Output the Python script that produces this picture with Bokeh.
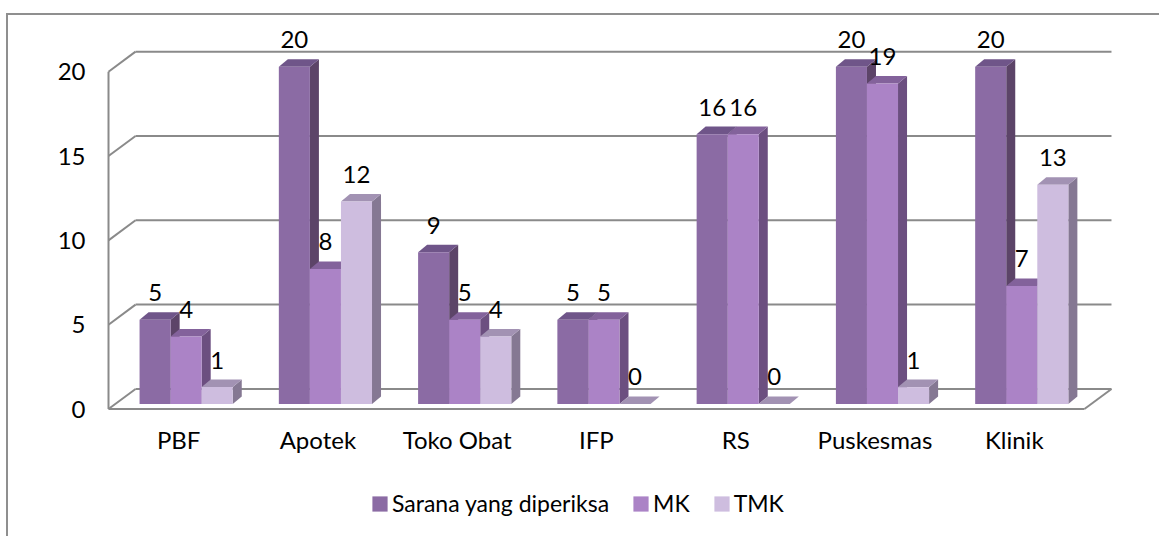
from bokeh.plotting import figure
from bokeh.models import (Range1d, LinearAxis, FixedTicker, Legend, LegendItem, Spacer)
from bokeh.layouts import column, row
from bokeh.embed import file_html
from bokeh.resources import INLINE
from bokeh.core.properties import value

# ---------------- data ----------------
categories = ["PBF", "Apotek", "Toko Obat", "IFP", "RS", "Puskesmas", "Klinik"]
series_names = ["Sarana yang diperiksa", "MK", "TMK"]
sarana = [5, 20, 9, 5, 16, 20, 20]
mk = [4, 8, 5, 5, 16, 19, 7]
tmk = [1, 12, 4, 0, 0, 1, 13]
y_ticks = [0, 5, 10, 15, 20]

# ---------------- styles ----------------
front_colors = ["#8B6BA4", "#AB83C6", "#CEBDDF"]
top_colors = ["#6F5589", "#83629B", "#A292B3"]
side_colors = ["#5C4468", "#6C4F80", "#857893"]
wall_color = "#8A8A8A"
FONT = "Lato"
FS = "24px"
LEG_FS = "23px"

# pixel geometry (page coordinates)
PX_X = 139.0      # px per category
PX_Y = 16.8       # px per value unit
ORIGIN_X = 185.5  # page x of first category centre (front plane of bars)
ORIGIN_Y = 407.0  # page y of value 0 on the front axis
FRAME_L, FRAME_W = 104, 1040
FRAME_T, FRAME_H = 15, 521
XLABEL_Y = 417.0  # page y where category labels hang from
LEGEND_LEFT, LEGEND_CY = 370, 499

BAR_W = 31.0 / PX_X
BAR_BASE = 5.0 / PX_Y          # bars sit slightly behind the front edge
BAR_DX = 9.0 / PX_X            # bar depth
BAR_DY = 7.5 / PX_Y
WALL_DX = 27.0 / PX_X          # depth of the wall/floor
WALL_DY = 20.0 / PX_Y
LABEL_GAP = 27.0 / PX_Y
FLOOR_L = (108 - ORIGIN_X) / PX_X
FLOOR_R_PAD = 0.45
LABEL_SHIFT = 7.5              # category labels sit on the front plane

x_range = Range1d((FRAME_L - ORIGIN_X) / PX_X, (FRAME_L + FRAME_W - ORIGIN_X) / PX_X)
y_range = Range1d((ORIGIN_Y - (FRAME_T + FRAME_H)) / PX_Y, (ORIGIN_Y - FRAME_T) / PX_Y)

p = figure(frame_width=FRAME_W, frame_height=FRAME_H,
           x_range=x_range, y_range=y_range,
           x_axis_type=None, y_axis_type=None,
           toolbar_location=None, output_backend="svg", title=None,
           min_border_left=96, min_border_right=15, min_border_top=0, min_border_bottom=0,
           background_fill_color="white", border_fill_color="white",
           outline_line_color=None)
p.styles = {"border-left": "2px solid #8F8F8F", "border-top": "2px solid #8F8F8F"}

n = len(categories)
ymax = max(y_ticks)

# ---------------- walls / floor ----------------
x_fr = (n - 1) + FLOOR_R_PAD
x_bl = FLOOR_L + WALL_DX
x_br = x_fr + WALL_DX
sx0, sy0, sx1, sy1 = [], [], [], []
for t in y_ticks:
    sx0.append(x_bl); sy0.append(t + WALL_DY); sx1.append(x_br); sy1.append(t + WALL_DY)
    sx0.append(FLOOR_L); sy0.append(t); sx1.append(x_bl); sy1.append(t + WALL_DY)
sx0.append(FLOOR_L); sy0.append(0); sx1.append(FLOOR_L); sy1.append(ymax)
sx0.append(FLOOR_L); sy0.append(0); sx1.append(x_fr); sy1.append(0)
sx0.append(x_fr); sy0.append(0); sx1.append(x_br); sy1.append(WALL_DY)
p.segment(x0=sx0, y0=sy0, x1=sx1, y1=sy1, line_color=wall_color, line_width=2)

# ---------------- bars ----------------
series = [sarana, mk, tmk]
side_xs, side_ys, side_c = [], [], []
top_xs, top_ys, top_c = [], [], []
front_renderers = []
lab_x, lab_y, lab_t = [], [], []
front_data = []
for j, vals in enumerate(series):
    L, R, B, T = [], [], [], []
    for i, v in enumerate(vals):
        l = i - 1.5 * BAR_W + j * BAR_W
        r = l + BAR_W
        b = BAR_BASE
        t = BAR_BASE + v
        L.append(l); R.append(r); B.append(b); T.append(t)
        side_xs.append([r, r, r + BAR_DX, r + BAR_DX])
        side_ys.append([b, t, t + BAR_DY, b + BAR_DY])
        side_c.append(side_colors[j])
        top_xs.append([l, r, r + BAR_DX, l + BAR_DX])
        top_ys.append([t, t, t + BAR_DY, t + BAR_DY])
        top_c.append(top_colors[j])
        lab_x.append((l + r) / 2)
        lab_y.append(t + LABEL_GAP)
        lab_t.append(str(v))
    front_data.append((L, R, B, T))

p.patches(xs=side_xs, ys=side_ys, fill_color=side_c, line_color=None)
p.patches(xs=top_xs, ys=top_ys, fill_color=top_c, line_color=None)
for j, (L, R, B, T) in enumerate(front_data):
    r = p.quad(left=L, right=R, bottom=B, top=T, fill_color=front_colors[j], line_color=None)
    front_renderers.append(r)

p.text(x=lab_x, y=lab_y, text=lab_t, text_align="center", text_baseline="middle",
       text_font=value(FONT), text_font_size=FS, text_color="black")

# ---------------- axes ----------------
yaxis = LinearAxis(ticker=FixedTicker(ticks=y_ticks),
                   axis_line_color=None, major_tick_line_color=None,
                   minor_tick_line_color=None, major_label_standoff=13,
                   major_label_text_font=FONT, major_label_text_font_size=FS,
                   major_label_text_color="black")
p.add_layout(yaxis, "left")

p.extra_x_ranges["lab"] = Range1d((FRAME_L - ORIGIN_X + LABEL_SHIFT) / PX_X,
                                  (FRAME_L + FRAME_W - ORIGIN_X + LABEL_SHIFT) / PX_X)
xaxis = LinearAxis(x_range_name="lab", ticker=FixedTicker(ticks=list(range(n))),
                   major_label_overrides={i: c for i, c in enumerate(categories)},
                   fixed_location=(ORIGIN_Y - XLABEL_Y) / PX_Y,
                   axis_line_color=None, major_tick_line_color=None,
                   minor_tick_line_color=None, major_label_standoff=0,
                   major_label_text_font=FONT, major_label_text_font_size=FS,
                   major_label_text_color="black")
p.add_layout(xaxis, "below")

legend = Legend(items=[LegendItem(label=series_names[j], renderers=[front_renderers[j]])
                       for j in range(3)],
                orientation="horizontal",
                location=(LEGEND_LEFT - FRAME_L, (FRAME_T + FRAME_H) - (LEGEND_CY + 16)),
                label_text_font=FONT, label_text_font_size=LEG_FS, label_text_color="black",
                glyph_width=19, glyph_height=19, label_standoff=3, spacing=22,
                padding=2, margin=0, border_line_color=None, background_fill_alpha=0)
p.add_layout(legend, "center")

layout = row(Spacer(width=6), column(Spacer(height=13), p))
open("out.html", "w").write(file_html(layout, INLINE))
